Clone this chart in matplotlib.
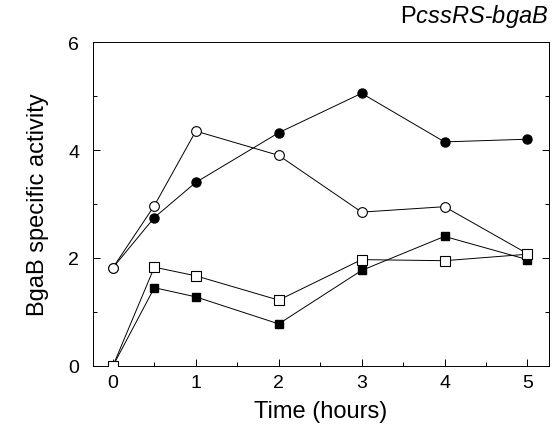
import numpy as np
import matplotlib.pyplot as plt
from matplotlib.ticker import MultipleLocator

plt.rcParams['font.family'] = ['Liberation Sans', 'DejaVu Sans']
plt.rcParams['mathtext.fontset'] = 'custom'
plt.rcParams['mathtext.rm'] = 'Liberation Sans'
plt.rcParams['mathtext.it'] = 'Liberation Sans:italic'

# Time points (hours)
t = [0, 0.5, 1, 2, 3, 4, 5]

# BgaB specific activity
open_circle = [1.82, 2.97, 4.35, 3.90, 2.85, 2.95, 2.08]
filled_circle = [1.82, 2.75, 3.40, 4.32, 5.05, 4.15, 4.20]
open_square = [0.0, 1.83, 1.67, 1.22, 1.97, 1.95, 2.07]
filled_square = [0.0, 1.45, 1.28, 0.78, 1.77, 2.40, 1.97]

fig = plt.figure(figsize=(5.54, 4.27), dpi=100)
ax = fig.add_axes([93/554, 1 - 367/427, (549 - 93)/554, (367 - 43)/427])

lw = 0.7
ax.plot(t, filled_circle, '-o', color='black', lw=lw, ms=6.5, mfc='black', zorder=3)
ax.plot(t, open_circle, '-o', color='black', lw=lw, ms=7, mfc='white', mew=0.8, zorder=4)
ax.plot(t, filled_square, '-s', color='black', lw=lw, ms=6, mfc='black', zorder=3)
ax.plot(t, open_square, '-s', color='black', lw=lw, ms=7, mfc='white', mew=0.8, zorder=4)

ax.set_xlim(-0.24, 5.26)
ax.set_ylim(0, 6)
ax.xaxis.set_major_locator(MultipleLocator(1))
ax.xaxis.set_minor_locator(MultipleLocator(0.5))
ax.yaxis.set_major_locator(MultipleLocator(2))
ax.yaxis.set_minor_locator(MultipleLocator(1))
ax.tick_params(which='both', direction='in', right=True, labelsize=14, width=0.7)
ax.tick_params(which='major', length=5)
ax.tick_params(which='minor', length=3)
ax.tick_params(axis='x', pad=6)
ax.tick_params(axis='y', pad=10)
for s in ax.spines.values():
    s.set_linewidth(0.7)

ax.set_xlabel('Time (hours)', fontsize=17, labelpad=6)
ax.set_ylabel('BgaB specific activity', fontsize=17, labelpad=14)
fig.text(548/554, 1 - 17/427, r'P$\it{cssRS}$-$\it{bgaB}$', ha='right', va='center', fontsize=17)

fig.savefig('out.png', dpi=100)
